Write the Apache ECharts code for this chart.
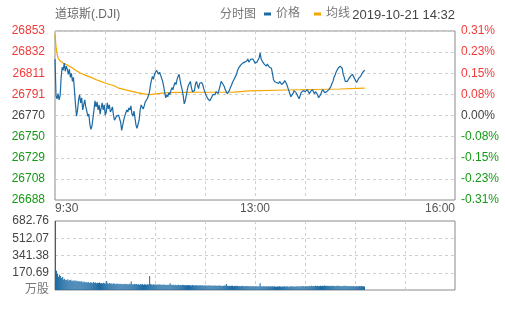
<!DOCTYPE html>
<html><head><meta charset="utf-8">
<script src="https://cdn.jsdelivr.net/npm/echarts@6/dist/echarts.min.js"></script>
<style>html,body{margin:0;padding:0;background:#fff}#c{width:505px;height:310px}</style>
</head><body><div id="c"></div>
<script>
const chartTitle = '道琼斯(.DJI)';
const chartType = '分时图';
const seriesNames = ['价格', '均线'];
const stamp = '2019-10-21 14:32';
const prevClose = 26770.6;
const priceMin = 26687.7, priceMax = 26853.5;
const pctMin = -0.31, pctMax = 0.31;
const volMax = 682.76;
const priceTicks = ['26688','26708','26729','26750','26770','26791','26811','26832','26853'];
const pctTicks = ['-0.31%','-0.23%','-0.15%','-0.08%','0.00%','0.08%','0.15%','0.23%','0.31%'];
const volTicks = ['万股','170.69','341.38','512.07','682.76'];
const timeTicks = ['9:30','','','','13:00','','','','16:00'];

const price = [
26826,26790,26787,26792,26786,26790,26808,26818,26815,26822,
26814,26819,26816,26811,26816,26808,26812,26804,26808,26795,
26781,26770,26776,26786,26791,26783,26788,26776,26781,26786,
26779,26775,26770,26772,26762,26757,26760,26768,26776,26785,
26779,26784,26776,26781,26772,26778,26783,26776,26781,26771,
26774,26783,26777,26781,26774,26776,26779,26771,26766,26768,
26770,
26769,26771,26772,26764,26756,26757,26766,26770,26769,
26776,26774,26778,26776,26780,26772,26770,26775,26768,26761,
26758,26762,26766,26776,26781,26779,26777,26780,26784,26783,
26787,26790,26793,26800,26805,26809,26806,26811,26812,26815,
26813,26811,26813,26810,26807,26804,26799,26793,26788,26791,
26789,26793,26791,26795,26798,26796,26800,26803,26801,26806,
26809,26811,26805,26800,26796,26790,26782,26785,26790,26796,
26800,26802,26804,26798,26794,26793,26795,26802,26804,26800,
26797,26802,26803,26803,26801,26797,26794,26791,26789,26787,
26786,26785,26787,26788,26791,26792,26791,26794,26793,26792,
26796,26800,26804,26803,26801,26799,26796,26794,26792,26791,
26795,26798,26800,26803,26805,26807,26809,26811,26815,26817,
26818,26820,26819,26822,26821,26823,26822,26824,26826,26823,
26824,26826,26825,26826,26824,26822,26821,26823,26825,26827,
26832,26826,26824,26823,26821,26820,26819,26821,26820,26818,
26819,26817,26812,26806,26804,26805,26803,26804,26802,26804,
26803,26801,26800,26803,26805,26806,26801,26798,26795,26792,
26789,26790,26792,26795,26794,26793,26791,26789,26787,26790,
26793,26794,26795,26796,26794,26793,26796,26795,26792,26794,
26795,26796,26794,26792,26794,26793,26791,26788,26787,26791,
26794,26796,26795,26793,26792,26794,26795,26796,26797,26799,
26802,26804,26808,26810,26813,26815,26817,26818,26819,26820,
26817,26811,26808,26804,26803,26804,26806,26807,26809,26810,
26811,26809,26808,26805,26803,26805,26807,26808,26809,26811,
26813,26814,26815
];

const volume = [
682.76,190,158,132,150,138,118,128,104,112,
99,96,106,92,98,101,89,95,87,97,
86,92,83,90,79,88,81,77,85,75,
80,72,78,70,76,74,68,79,71,73,
67,72,69,75,66,70,64,71,68,62,
89,66,63,69,61,65,60,67,62,58,
64,59,61,57,63,58,60,56,62,57,
59,55,61,57,84,58,54,60,56,59,
55,58,53,57,54,59,52,56,55,53,
57,54,138,60,55,53,56,52,54,51,
55,52,56,50,53,51,54,50,52,49,
53,50,66,51,49,52,48,51,47,50,
52,48,50,47,51,49,46,50,48,47,
49,46,48,45,50,47,45,48,46,44,
47,45,48,44,46,43,47,45,44,42,
46,43,45,42,44,41,45,43,42,42,
44,41,43,40,42,44,41,60,43,40,
42,39,41,43,38,40,42,39,41,38,
40,37,39,41,38,36,39,37,40,36,
38,36,37,39,35,38,36,37,35,38,
66,37,35,38,36,34,37,35,36,34,
37,35,36,34,38,35,33,36,34,37,
35,33,36,34,37,35,34,36,33,35,
37,34,36,35,33,38,36,34,37,35,
38,36,39,37,35,40,38,36,39,37,
41,38,40,37,42,39,41,38,40,43,
39,42,40,44,41,39,43,40,42,38,
41,39,43,40,38,42,40,41,39,37,
40,38,42,39,41,37,40,38,36,39,
37,40,38,35,39,36,38,40,37,39,
38,36,35
];

const avgMinutes = [0,1,2,3,5,8,12,16,20,25,30,35,42,50,57,62,70,80,88,93,100,110,125,140,175,176,189,190,226,227,278,279,302];
const avgValues = [26850,26838,26831,26827,26824,26822,26820,26818,26815,26812,26810,26808,26805,26802,26800,26797.5,26795.5,26793,26791.5,26791,26792,26793,26793.3,26793.4,26793.6,26794.5,26794.7,26795.5,26795.6,26796.5,26796.6,26797.5,26797.5];

// categories: every minute of the session 9:30 - 16:00
const minutes = [];
for (let i = 0; i <= 390; i++) {
  const t = 9 * 60 + 30 + i;
  minutes.push(Math.floor(t / 60) + ':' + String(t % 60).padStart(2, '0'));
}
const avg = new Array(price.length).fill(null);
avgMinutes.forEach((m, k) => { avg[m] = avgValues[k]; });

const BLUE = '#1c6aa3', ORANGE = '#f7a600';
const RED = '#f23a3a', GREEN = '#149a14', NEUTRAL = '#444';
const FONT = "'Liberation Sans', Arial, 'Noto Sans CJK SC', sans-serif";
const priceStep = (priceMax - priceMin) / 8;
const pctStep = (pctMax - pctMin) / 8;
const volStep = volMax / 4;
const dashed = { show: true, showMinLine: false, showMaxLine: false, lineStyle: { color: '#cfcfcf', type: [3, 3], width: 1 } };

function sideColor(idx) { return idx > 4 ? RED : (idx < 4 ? GREEN : NEUTRAL); }

const chart = echarts.init(document.getElementById('c'), null, { renderer: 'canvas' });
chart.setOption({
  animation: false,
  textStyle: { fontFamily: FONT },
  title: { text: chartTitle, left: 55, top: 9, padding: 0,
    textStyle: { fontSize: 12, fontWeight: 'normal', color: '#666', fontFamily: FONT } },
  legend: { data: seriesNames, left: 264, top: 8, padding: 0, icon: 'rect', itemWidth: 7, itemHeight: 3,
    itemGap: 14, selectedMode: false, textStyle: { fontSize: 12, color: '#777', fontFamily: FONT } },
  graphic: [
    { type: 'text', x: 220, y: 15, style: { text: chartType, fill: '#777', fontSize: 12, fontFamily: FONT, verticalAlign: 'middle' } },
    { type: 'text', x: 455, y: 15, style: { text: stamp, fill: '#444', fontSize: 13, fontFamily: FONT, align: 'right', verticalAlign: 'middle' } }
  ],
  grid: [
    { left: 55, width: 400, top: 31, height: 169, show: true, borderColor: '#8a8a8a', borderWidth: 1, backgroundColor: 'transparent' },
    { left: 55, width: 400, top: 221, height: 69, show: true, borderColor: '#8a8a8a', borderWidth: 1, backgroundColor: 'transparent' }
  ],
  xAxis: [
    { type: 'category', gridIndex: 0, data: minutes, boundaryGap: false, show: false },
    { type: 'value', gridIndex: 0, min: 0, max: 8, interval: 1, position: 'bottom',
      axisLine: { show: false }, axisTick: { show: false }, splitLine: dashed,
      axisLabel: { show: true, margin: 3, fontSize: 12, color: '#555', fontFamily: FONT,
        alignMinLabel: 'left', alignMaxLabel: 'right',
        formatter: v => timeTicks[Math.round(v)] } },
    { type: 'category', gridIndex: 1, data: minutes, boundaryGap: true, show: false },
    { type: 'value', gridIndex: 1, min: 0, max: 8, interval: 1,
      axisLine: { show: false }, axisTick: { show: false }, axisLabel: { show: false }, splitLine: dashed }
  ],
  yAxis: [
    { type: 'value', gridIndex: 0, min: priceMin, max: priceMax, interval: priceStep, position: 'left',
      axisLine: { show: false }, axisTick: { show: false }, splitLine: dashed,
      axisLabel: { margin: 10, fontSize: 12, fontFamily: FONT,
        formatter: v => priceTicks[Math.round((v - priceMin) / priceStep)],
        color: v => sideColor(Math.round((v - priceMin) / priceStep)) } },
    { type: 'value', gridIndex: 0, min: pctMin, max: pctMax, interval: pctStep, position: 'right',
      axisLine: { show: false }, axisTick: { show: false }, splitLine: { show: false },
      axisLabel: { margin: 6, fontSize: 12, fontFamily: FONT,
        formatter: v => pctTicks[Math.round((v - pctMin) / pctStep)],
        color: v => sideColor(Math.round((v - pctMin) / pctStep)) } },
    { type: 'value', gridIndex: 1, min: 0, max: volMax, interval: volStep, position: 'left',
      axisLine: { show: false }, axisTick: { show: false }, splitLine: dashed,
      axisLabel: { margin: 6, fontSize: 12, fontFamily: FONT,
        formatter: v => volTicks[Math.round(v / volStep)],
        color: v => Math.round(v / volStep) === 0 ? '#777' : '#444' } }
  ],
  series: [
    { name: seriesNames[0], type: 'line', xAxisIndex: 0, yAxisIndex: 0, data: price,
      showSymbol: false, symbol: 'none', lineStyle: { color: BLUE, width: 1.2 }, itemStyle: { color: BLUE }, z: 3 },
    { name: seriesNames[1], type: 'line', xAxisIndex: 0, yAxisIndex: 0, data: avg, connectNulls: true,
      showSymbol: false, symbol: 'none', lineStyle: { color: ORANGE, width: 1.2 }, itemStyle: { color: ORANGE }, z: 2 },
    { name: 'volume', type: 'bar', xAxisIndex: 2, yAxisIndex: 2, data: volume,
      barCategoryGap: '0%', itemStyle: { color: BLUE } }
  ]
});
</script>
</body></html>
